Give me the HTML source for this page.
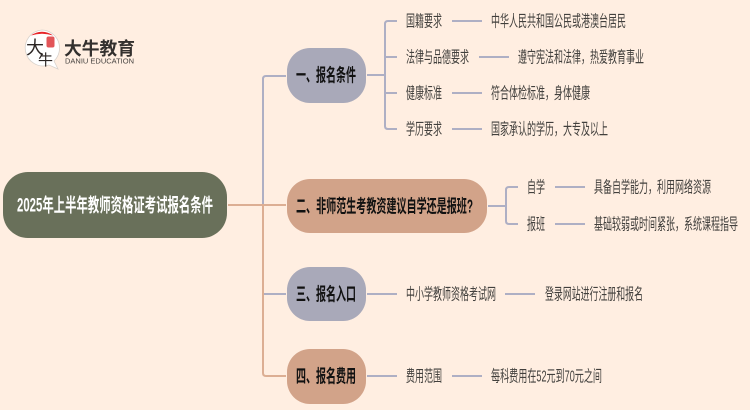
<!DOCTYPE html>
<html lang="zh">
<head>
<meta charset="utf-8">
<style>
html,body{margin:0;padding:0;background:#ffeee1;width:750px;height:410px;overflow:hidden}
svg{display:block}
text{font-family:"Liberation Sans","Noto Sans CJK SC",sans-serif}
.t{font-size:16px;fill:#42403d}
.b{font-size:18px;font-weight:700;fill:#111}
.p{stroke:#aeafc4;stroke-width:2;fill:none}
.o{stroke:#dcae93;stroke-width:2;fill:none}
</style>
</head>
<body>
<svg width="750" height="410" viewBox="0 0 750 410" xmlns="http://www.w3.org/2000/svg">
<rect width="750" height="410" fill="#ffeee1"/>

<!-- spine -->
<path class="p" d="M286 76H266Q263 76 263 79V205"/>
<path class="o" d="M228 205H286"/>
<path class="o" d="M263 205V291"/>
<path class="p" d="M263 294H286"/>
<path class="o" d="M263 291V373Q263 376 266 376H286"/>

<!-- branch 1 -->
<path class="p" d="M367 75H385"/>
<path class="p" d="M397 21H388Q385 21 385 24V126Q385 129 388 129H397"/>
<path class="p" d="M385 57H397M385 93H397"/>
<path class="p" d="M452 21H482M479 57H509M452 93H482M452 129H482"/>

<!-- branch 2 -->
<path class="p" d="M488 206H506"/>
<path class="p" d="M518 187H509Q506 187 506 190V221Q506 224 509 224H518"/>
<path class="p" d="M555 187H585M555 224H585"/>

<!-- branch 3, 4 -->
<path class="p" d="M367 294H397M505 294H535"/>
<path class="p" d="M367 376H397M452 376H482"/>

<!-- nodes -->
<rect x="3" y="172" width="224" height="66" rx="25" fill="#69705a"/>
<rect x="287" y="48" width="79" height="55" rx="23" fill="#a9a9b9"/>
<rect x="287" y="179" width="200" height="54" rx="23" fill="#d2a389"/>
<rect x="287" y="267" width="79" height="54" rx="23" fill="#a9a9b9"/>
<rect x="287" y="349" width="79" height="55" rx="23" fill="#d2a389"/>

<text x="17" y="211.500" font-size="19" font-weight="700" fill="#fff" textLength="196" lengthAdjust="spacingAndGlyphs">2025年上半年教师资格证考试报名条件</text>
<text class="b" x="296" y="81.500" textLength="60" lengthAdjust="spacingAndGlyphs">一、报名条件</text>
<text class="b" x="296" y="212.500" textLength="177" lengthAdjust="spacingAndGlyphs">二、非师范生考教资建议自学还是报班?</text>
<text class="b" x="296" y="300.500" textLength="60" lengthAdjust="spacingAndGlyphs">三、报名入口</text>
<text class="b" x="296" y="382.500" textLength="60" lengthAdjust="spacingAndGlyphs">四、报名费用</text>

<!-- leaf text -->
<text class="t" x="406" y="26.500" textLength="36" lengthAdjust="spacingAndGlyphs">国籍要求</text>
<text class="t" x="406" y="62.500" textLength="63" lengthAdjust="spacingAndGlyphs">法律与品德要求</text>
<text class="t" x="406" y="98.500" textLength="36" lengthAdjust="spacingAndGlyphs">健康标准</text>
<text class="t" x="406" y="134.500" textLength="36" lengthAdjust="spacingAndGlyphs">学历要求</text>
<text class="t" x="491" y="26.500" textLength="135" lengthAdjust="spacingAndGlyphs">中华人民共和国公民或港澳台居民</text>
<text class="t" x="518" y="62.500" textLength="126" lengthAdjust="spacingAndGlyphs">遵守宪法和法律&#65292;热爱教育事业</text>
<text class="t" x="491" y="98.500" textLength="99" lengthAdjust="spacingAndGlyphs">符合体检标准&#65292;身体健康</text>
<text class="t" x="491" y="134.500" textLength="117" lengthAdjust="spacingAndGlyphs">国家承认的学历&#65292;大专及以上</text>
<text class="t" x="527" y="192.500" textLength="18" lengthAdjust="spacingAndGlyphs">自学</text>
<text class="t" x="527" y="229.500" textLength="18" lengthAdjust="spacingAndGlyphs">报班</text>
<text class="t" x="594" y="192.500" textLength="117" lengthAdjust="spacingAndGlyphs">具备自学能力&#65292;利用网络资源</text>
<text class="t" x="594" y="229.500" textLength="144" lengthAdjust="spacingAndGlyphs">基础较弱或时间紧张&#65292;系统课程指导</text>
<text class="t" x="406" y="299.500" textLength="90" lengthAdjust="spacingAndGlyphs">中小学教师资格考试网</text>
<text class="t" x="545" y="299.500" textLength="98" lengthAdjust="spacingAndGlyphs">登录网站进行注册和报名</text>
<text class="t" x="406" y="381.500" textLength="36" lengthAdjust="spacingAndGlyphs">费用范围</text>
<text class="t" x="491" y="381.500" textLength="111" lengthAdjust="spacingAndGlyphs">每科费用在52元到70元之间</text>

<!-- logo -->
<path d="M42 30A18 18 0 1 0 49 65L58 69L54 61A18 18 0 0 0 42 30Z" fill="#fff" stroke="#d8d2cc" stroke-width="0.8"/>
<path d="M31 35.500A18 18 0 0 1 53 35.500Q42 32 31 35.500Z" fill="#e8262a"/>
<rect x="46.500" y="36.500" width="8" height="11" rx="2" fill="#e25558"/>
<text x="26" y="54" font-size="18" fill="#2b2523" style="font-family:'Noto Sans CJK SC',sans-serif" font-weight="400">大</text>
<text x="38" y="65" font-size="15" fill="#2b2523" style="font-family:'Noto Sans CJK SC',sans-serif" font-weight="400">牛</text>
<text x="64" y="55" font-size="18" font-weight="700" fill="#33302e" textLength="71" lengthAdjust="spacingAndGlyphs">大牛教育</text>
<text x="65" y="63.500" font-size="7" fill="#45423f" textLength="69" lengthAdjust="spacingAndGlyphs">DANIU EDUCATION</text>
</svg>
</body>
</html>
